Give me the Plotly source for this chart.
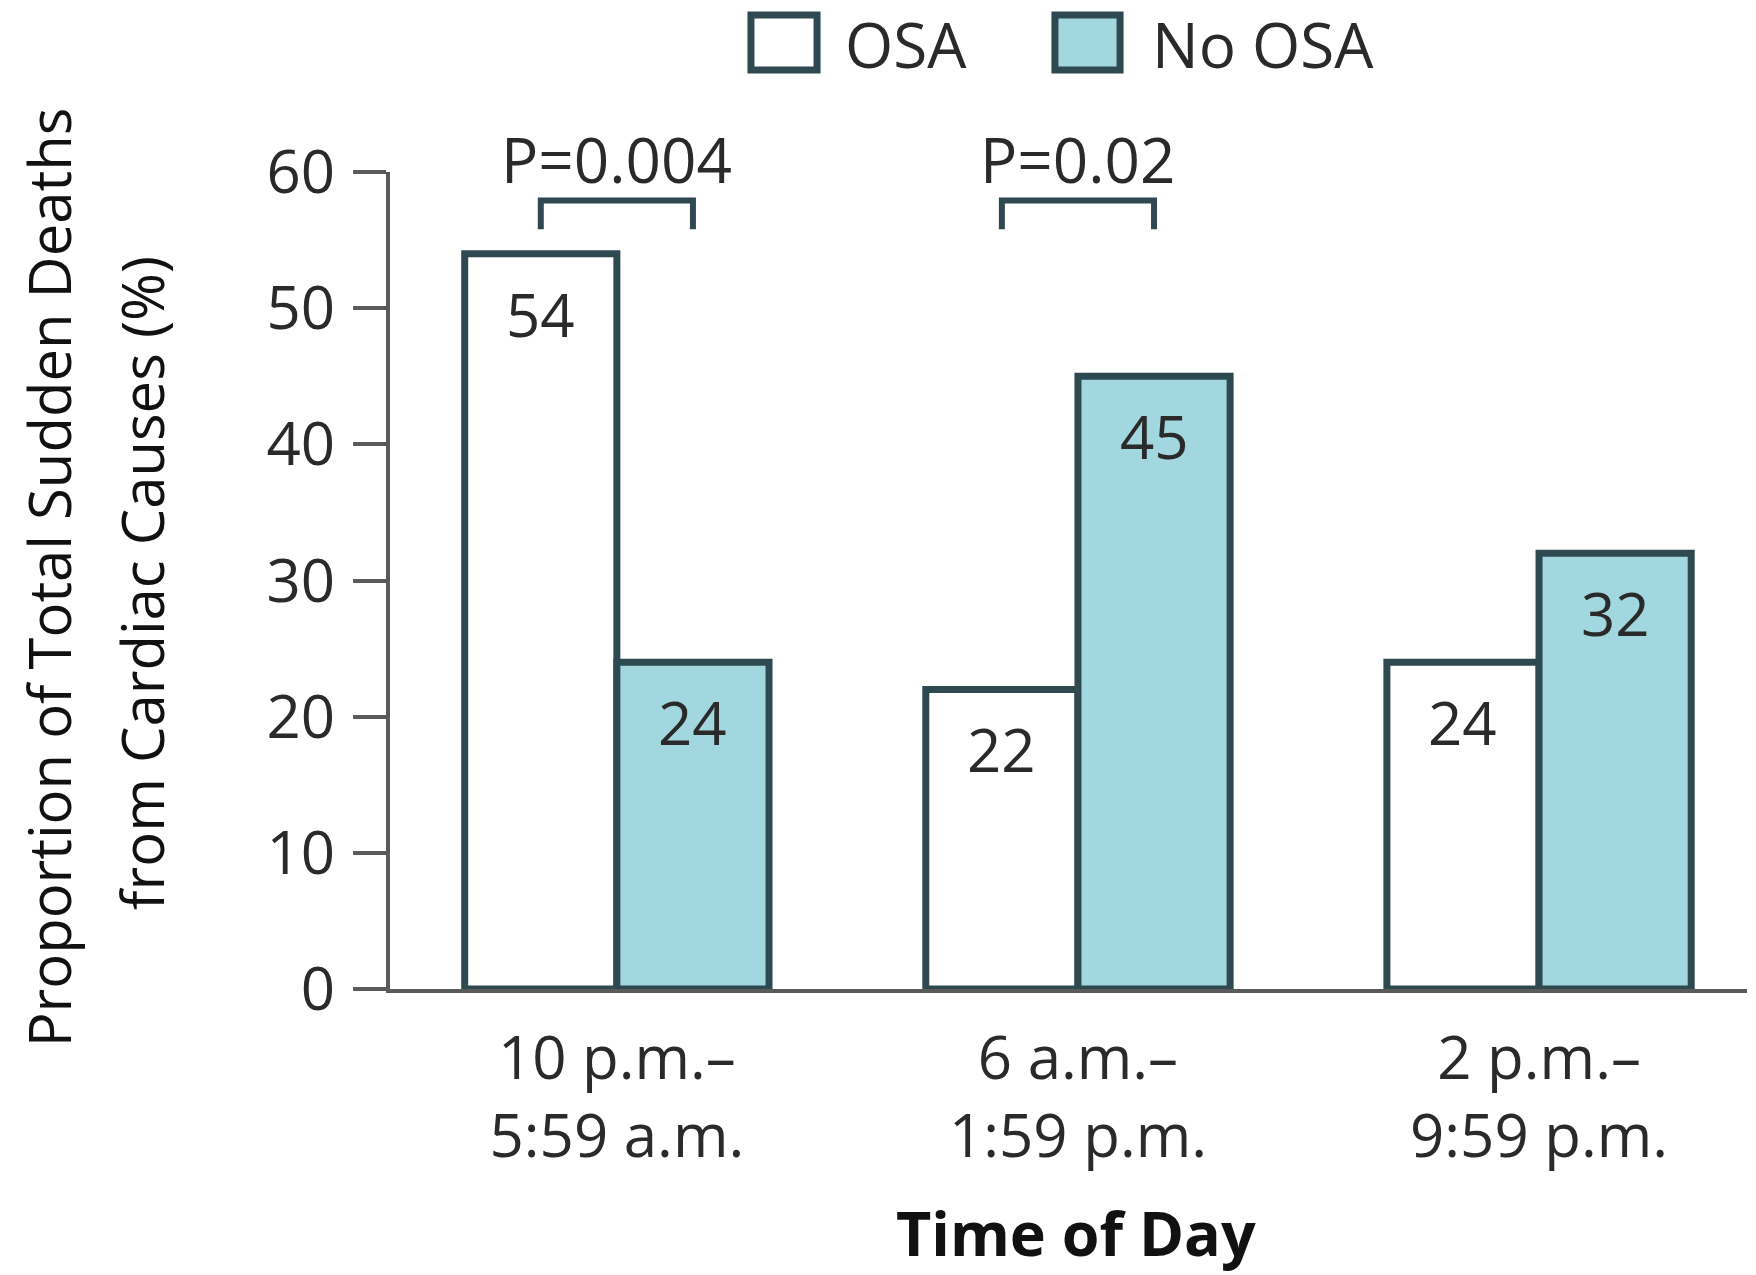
import plotly.graph_objects as go

categories = ["10 p.m.–<br>5:59 a.m.", "6 a.m.–<br>1:59 p.m.", "2 p.m.–<br>9:59 p.m."]
osa = [54, 22, 24]
no_osa = [24, 45, 32]
p_labels = ["P=0.004", "P=0.02", None]
y_ticks = [0, 10, 20, 30, 40, 50, 60]
series_names = ["OSA", "No OSA"]

FONT = "Open Sans"
EDGE = "#2E4A50"
FILL = "#A2D7E0"
AXIS = "#5A5A5A"
TXT = "#2A2A2A"

idx = list(range(len(categories)))
W = 0.33

fig = go.Figure()
fig.add_trace(go.Bar(x=idx, y=osa, offset=-W, width=W, name=series_names[0],
                     marker=dict(color="white", line=dict(color=EDGE, width=7)),
                     showlegend=False, cliponaxis=False))
fig.add_trace(go.Bar(x=idx, y=no_osa, offset=0, width=W, name=series_names[1],
                     marker=dict(color=FILL, line=dict(color=EDGE, width=7)),
                     showlegend=False, cliponaxis=False))

annotations = []
shapes = []
for i in idx:
    annotations.append(dict(x=i - W / 2, y=osa[i], xref="x", yref="y", text=str(osa[i]),
                            showarrow=False, yshift=-60, yanchor="middle",
                            font=dict(family=FONT, size=60, color=TXT)))
    annotations.append(dict(x=i + W / 2, y=no_osa[i], xref="x", yref="y", text=str(no_osa[i]),
                            showarrow=False, yshift=-60, yanchor="middle",
                            font=dict(family=FONT, size=60, color=TXT)))
    if p_labels[i]:
        annotations.append(dict(x=i, y=57.9, xref="x", yref="y", text=p_labels[i],
                                showarrow=False, yanchor="middle", yshift=42,
                                font=dict(family=FONT, size=62, color=TXT)))
        shapes.append(dict(type="path", xref="x", yref="y",
                           path=f"M {i - W/2},55.8 L {i - W/2},57.9 L {i + W/2},57.9 L {i + W/2},55.8",
                           line=dict(color=EDGE, width=6)))

# custom legend
leg = [(series_names[0], "white", 0.2660, 0.3147, 0.3338),
       (series_names[1], FILL, 0.4900, 0.5380, 0.5601)]
for name, col, x0, x1, tx in leg:
    shapes.append(dict(type="rect", xref="paper", yref="paper", x0=x0, x1=x1, y0=1.1248, y1=1.1922,
                       fillcolor=col, line=dict(color=EDGE, width=7)))
    annotations.append(dict(x=tx, y=1.157, xref="paper", yref="paper", text=name, showarrow=False,
                            xanchor="left", yanchor="middle",
                            font=dict(family=FONT, size=62, color=TXT)))

# axis titles
annotations.append(dict(x=0.5055, y=-0.2975, xref="paper", yref="paper", text="<b>Time of Day</b>",
                        showarrow=False, xanchor="center", yanchor="middle",
                        font=dict(family=FONT, size=61, color="#111")))
annotations.append(dict(x=-0.252, y=0.504, xref="paper", yref="paper",
                        text="Proportion of Total Sudden Deaths", textangle=-90,
                        showarrow=False, xanchor="center", yanchor="middle",
                        font=dict(family=FONT, size=58, color="#111")))
annotations.append(dict(x=-0.1828, y=0.497, xref="paper", yref="paper",
                        text="from Cardiac Causes (%)", textangle=-90,
                        showarrow=False, xanchor="center", yanchor="middle",
                        font=dict(family=FONT, size=58, color="#111")))

fig.update_layout(
    width=1756, height=1275, autosize=False,
    margin=dict(l=390, r=9, t=172, b=286),
    plot_bgcolor="white", paper_bgcolor="white",
    annotations=annotations, shapes=shapes,
    xaxis=dict(range=[-0.492, 2.451], tickvals=idx, ticktext=categories,
               showline=True, linecolor=AXIS, linewidth=4, ticks="", showgrid=False,
               zeroline=False, ticklabelstandoff=14,
               tickfont=dict(family=FONT, size=60, color=TXT)),
    yaxis=dict(range=[0, 60], tickvals=y_ticks, showline=True, linecolor=AXIS, linewidth=4,
               ticks="outside", ticklen=33, tickwidth=4, tickcolor=AXIS, showgrid=False,
               zeroline=False, ticklabelstandoff=6,
               tickfont=dict(family=FONT, size=60, color=TXT)),
)

# remove the browser's default 8px body margin so the figure fills the window exactly
fig.write_html("out.html", config={"displayModeBar": False},
               post_script="document.body.style.margin='0';document.body.style.overflow='hidden';")
